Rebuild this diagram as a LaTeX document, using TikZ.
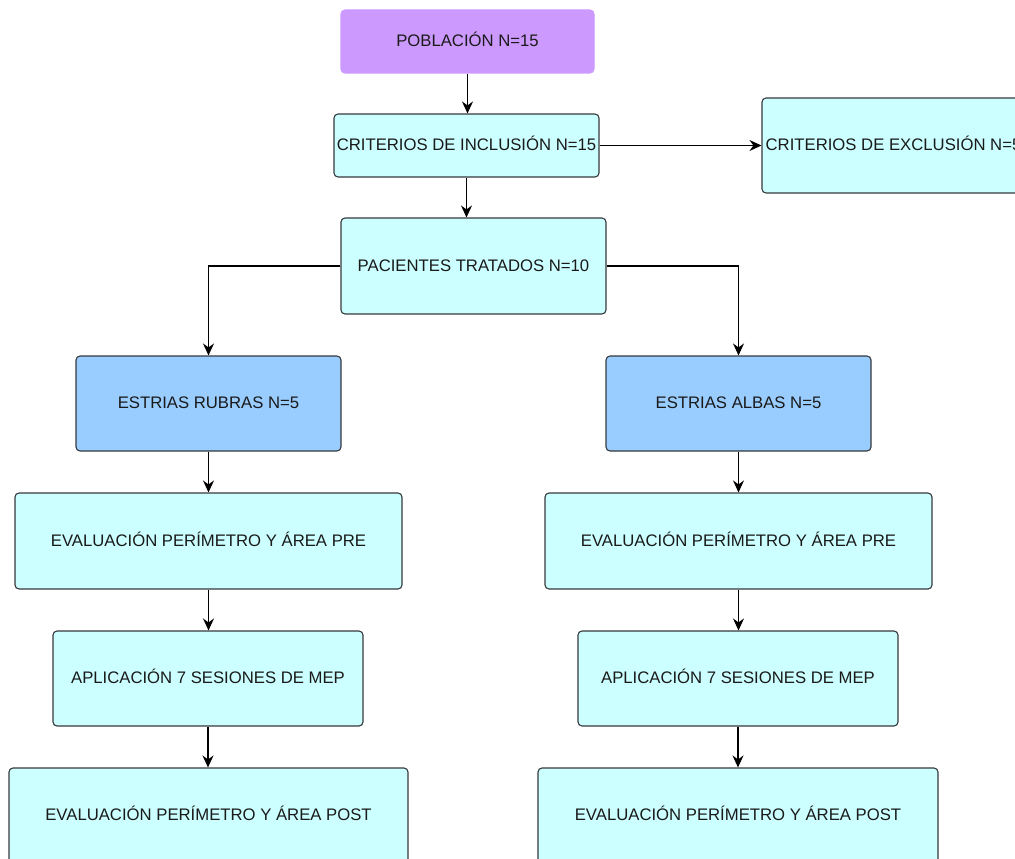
\documentclass[tikz,border=0pt]{standalone}
\usepackage{fontspec}
\setmainfont{Liberation Sans}
\usetikzlibrary{arrows.meta}
\definecolor{purp}{HTML}{CC99FF}
\definecolor{cyanbox}{HTML}{CCFFFF}
\definecolor{bluebox}{HTML}{99CCFF}
\definecolor{edge}{HTML}{36393D}
\definecolor{txt}{HTML}{1A1A1A}
\tikzset{
  flowbox/.style={draw=edge, line width=1.1pt, rounded corners=4pt, inner sep=0pt,
    font=\fontsize{16.7}{19}\selectfont, text=txt, align=center,
    text height=11.5pt, text depth=1.5pt},
  cbox/.style={flowbox, fill=cyanbox},
  bbox/.style={flowbox, fill=bluebox},
  pbox/.style={flowbox, fill=purp, draw=purp},
  conn/.style={draw=black, line width=1.2pt, -{Stealth[length=12pt,width=11pt,inset=4pt]}}
}
\begin{document}
\begin{tikzpicture}[x=1pt,y=-1pt]
\useasboundingbox (0,0) rectangle (1015,859);
\clip (0,0) rectangle (1015,859);
\node[pbox, minimum width=253pt, minimum height=63pt] (pob) at (467.5,41.5) {POBLACIÓN N=15};
\node[cbox, minimum width=265pt, minimum height=63pt] (inc) at (466.5,145.5) {CRITERIOS DE INCLUSIÓN N=15};
\node[cbox, minimum width=263pt, minimum height=95pt] (exc) at (893.5,145.5) {CRITERIOS DE EXCLUSIÓN N=5};
\node[cbox, minimum width=265pt, minimum height=96pt] (pac) at (473.5,266) {PACIENTES TRATADOS N=10};
\node[bbox, minimum width=265pt, minimum height=95pt] (rub) at (208.5,403.5) {ESTRIAS RUBRAS N=5};
\node[bbox, minimum width=265pt, minimum height=95pt] (alb) at (738.5,403.5) {ESTRIAS ALBAS N=5};
\node[cbox, minimum width=387pt, minimum height=96pt] (preL) at (208.5,541) {EVALUACIÓN PERÍMETRO Y ÁREA PRE};
\node[cbox, minimum width=387pt, minimum height=96pt] (preR) at (738.5,541) {EVALUACIÓN PERÍMETRO Y ÁREA PRE};
\node[cbox, minimum width=310pt, minimum height=95pt] (apL) at (208,678.5) {APLICACIÓN 7 SESIONES DE MEP};
\node[cbox, minimum width=320pt, minimum height=95pt] (apR) at (738,678.5) {APLICACIÓN 7 SESIONES DE MEP};
\node[cbox, minimum width=399pt, minimum height=95pt] (postL) at (208.5,815.5) {EVALUACIÓN PERÍMETRO Y ÁREA POST};
\node[cbox, minimum width=400pt, minimum height=95pt] (postR) at (738,815.5) {EVALUACIÓN PERÍMETRO Y ÁREA POST};

\draw[conn] (pob.south) -- (pob.south |- inc.north);
\draw[conn] (inc.east) -- (exc.west);
\draw[conn] (inc.south) -- (inc.south |- pac.north);
\draw[conn] (pac.west) -| (rub.north);
\draw[conn] (pac.east) -| (alb.north);
\draw[conn] (rub.south) -- (rub.south |- preL.north);
\draw[conn] (alb.south) -- (alb.south |- preR.north);
\draw[conn] (preL.south) -- (preL.south |- apL.north);
\draw[conn] (preR.south) -- (preR.south |- apR.north);
\draw[conn] (apL.south) -- (apL.south |- postL.north);
\draw[conn] (apR.south) -- (apR.south |- postR.north);
\end{tikzpicture}
\end{document}
